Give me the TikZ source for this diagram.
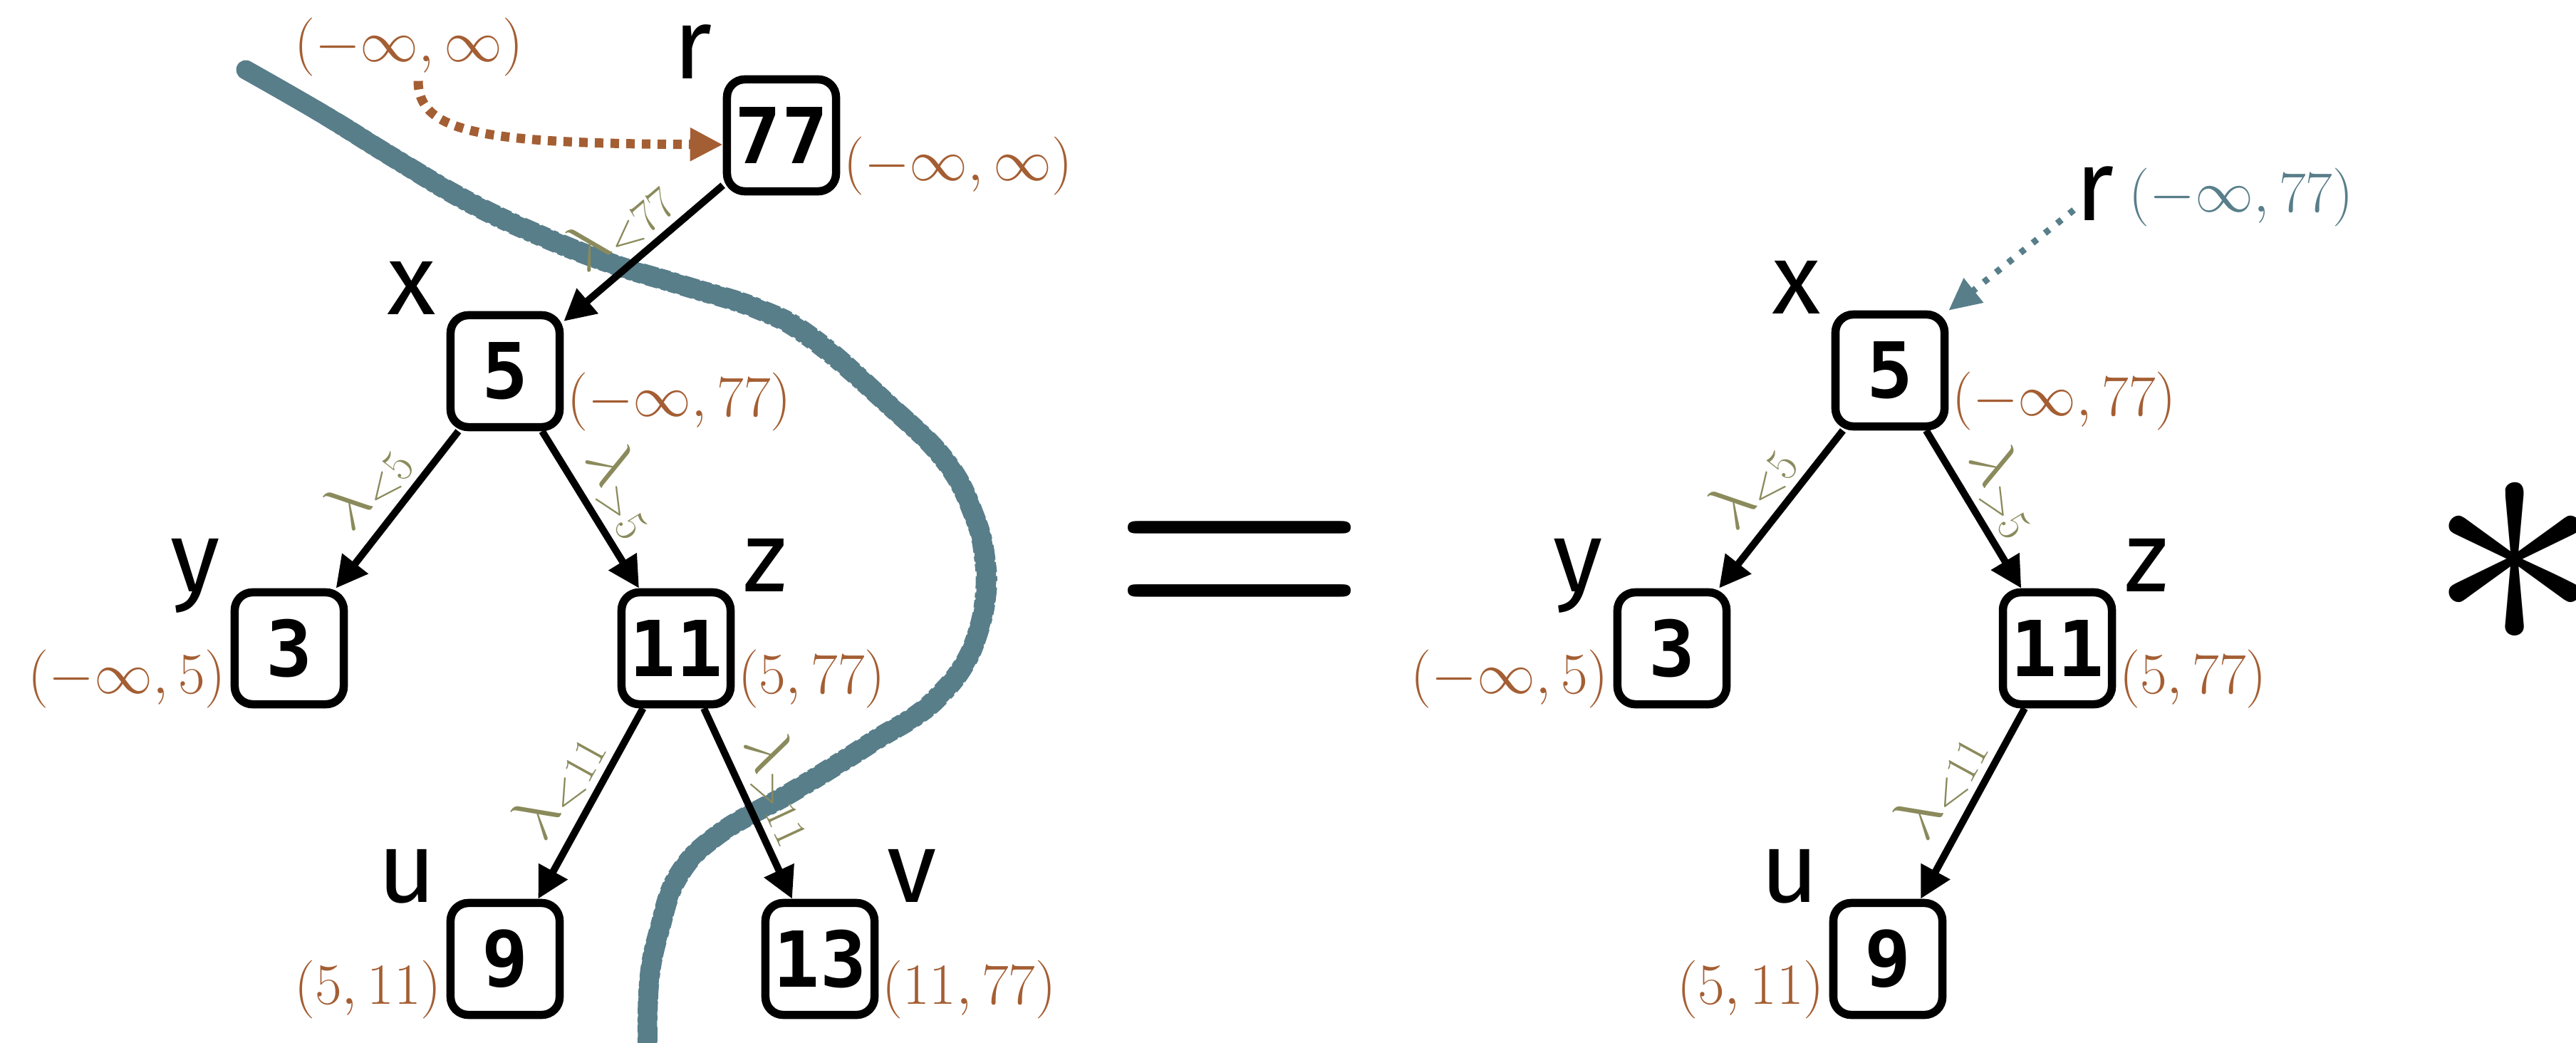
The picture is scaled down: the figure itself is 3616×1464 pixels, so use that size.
\RequirePackage{fix-cm}
\documentclass[tikz,border=0pt]{standalone}
\usepackage{fontspec}
\usetikzlibrary{arrows.meta,calc}
\newfontfamily\lblfont{Fira Sans}
\newfontfamily\numfont{DejaVu Sans Mono}
\definecolor{ivbrown}{RGB}{164,94,51}
\definecolor{ivblue}{RGB}{88,126,138}
\definecolor{ivolive}{RGB}{138,138,92}
\tikzset{
  keybox/.style={draw, line width=0.115cm, rounded corners=0.25cm, minimum width=1.53cm, minimum height=1.57cm, inner sep=0pt, font=\numfont\bfseries\fontsize{30.8}{32}\selectfont},
  vname/.style={inner sep=0pt, font=\lblfont\fontsize{40}{44}\selectfont},
  ivl/.style={inner sep=0pt, text=ivbrown, font=\fontsize{23.3}{26}\selectfont},
  edgearrow/.style={line width=0.1cm, -{Triangle[length=0.44cm,width=0.44cm]}},
  elab/.style={midway, sloped, above, inner sep=2.5pt, text=ivolive, font=\fontsize{26}{29}\selectfont},
  bigsym/.style={inner sep=0pt, anchor=base, font=\fontsize{142}{150}\selectfont},
  cutline/.style={draw=ivblue, line cap=round, line join=round},
}
\begin{document}
\begin{tikzpicture}[x=0.01cm, y=-0.01cm]
\clip (0,0) rectangle (3616,1464);
% the cut curve
\path[cutline, line width=0.27cm] plot[smooth, tension=0.7] coordinates {(345,98) (453,160) (555,223) (657,283) (759,331) (861,371) (963,402) (1065,434) (1140,475) (1244,565) (1327,647) (1369,728) (1383,790) (1383,840) (1372,890) (1352,935) (1320,975) (1285,1005) (1235,1035) (1180,1070) (1106,1115) (1010,1170) (953,1228) (926,1304) (911,1381) (909,1490)};
\path[cutline, line width=0.06cm, line cap=butt, dash pattern=on 4pt off 1.5pt on 2pt off 2.5pt on 6pt off 1pt] plot[smooth, tension=0.7] coordinates {(341,87) (455,149) (558,212) (661,272) (763,320) (864,360) (966,391) (1069,423) (1147,465) (1252,557) (1337,641) (1380,725) (1395,790) (1395,840) (1383,893) (1362,941) (1328,984) (1291,1015) (1241,1045) (1186,1080) (1112,1125) (1017,1179) (963,1234) (937,1307) (922,1383) (920,1490)};
\path[cutline, line width=0.06cm, line cap=butt, dash pattern=on 3pt off 2pt on 5pt off 1.5pt on 2pt off 1pt] plot[smooth, tension=0.7] coordinates {(349,109) (451,171) (552,234) (653,294) (755,342) (858,382) (960,413) (1061,445) (1133,485) (1236,573) (1317,653) (1358,731) (1371,790) (1371,840) (1361,887) (1342,929) (1312,966) (1279,995) (1229,1025) (1174,1060) (1100,1105) (1003,1161) (943,1222) (915,1301) (900,1379) (898,1490)};

% ---------- left tree ----------
\node[keybox] (r77) at (1097,190) {77};
\node[keybox] (x5) at (709,521) {5};
\node[keybox] (y3) at (406,910) {3};
\node[keybox] (z11) at (949,910) {11};
\node[keybox] (u9) at (709,1346) {9};
\node[keybox] (v13) at (1151,1346) {13};

\node[vname, anchor=base east] (lr) at ($(r77.north west)+(-14,5)$) {r};
\node[vname, anchor=base east] (lx) at ($(x5.north west)+(-14,5)$) {x};
\node[vname, anchor=base east] (ly) at ($(y3.north west)+(-14,5)$) {y};
\node[vname, anchor=base west] (lz) at ($(z11.north east)+(11,5)$) {z};
\node[vname, anchor=base east] (lu) at ($(u9.north west)+(-14,5)$) {u};
\node[vname, anchor=base west] (lv) at ($(v13.north east)+(11,5)$) {v};

\node[ivl] (topIv) at (574,66) {$(-\infty,\infty)$};
\node[ivl, anchor=south west] (ir77) at ($(r77.south east)+(4,0)$) {$(-\infty,\infty)$};
\node[ivl, anchor=south west] (ix5) at ($(x5.south east)+(4,0)$) {$(-\infty,77)$};
\node[ivl, anchor=south east] (iy3) at ($(y3.south west)+(-6,0)$) {$(-\infty,5)$};
\node[ivl, anchor=south west] (iz11) at ($(z11.south east)+(4,0)$) {$(5,77)$};
\node[ivl, anchor=south east] (iu9) at ($(u9.south west)+(-6,0)$) {$(5,11)$};
\node[ivl, anchor=south west] (iv13) at ($(v13.south east)+(4,0)$) {$(11,77)$};

\draw[edgearrow] (r77) -- node[elab]{$\lambda_{<77}$} (x5);
\draw[edgearrow] (x5) -- node[elab]{$\lambda_{<5}$} (y3);
\draw[edgearrow] (x5) -- node[elab]{$\lambda_{>5}$} (z11);
\draw[edgearrow] (z11) -- node[elab]{$\lambda_{<11}$} (u9);
\draw[edgearrow] (z11) -- node[elab]{$\lambda_{>11}$} (v13);

\coordinate (bstart) at ($(topIv.south)+(13,6)$);
\draw[ivbrown, line width=0.13cm, dash pattern=on 0.12cm off 0.1cm, -{Triangle[length=0.46cm,width=0.44cm]}] (bstart) .. controls +(0,75) and +(-330,-2) .. ($(r77.west)+(0,13)$);

% ---------- equals ----------
\node[bigsym] (eq) at (1740,909) {$=$};

% ---------- right tree ----------
\node[keybox] (x5r) at (2653,520) {5};
\node[keybox] (y3r) at (2347,910) {3};
\node[keybox] (z11r) at (2888,910) {11};
\node[keybox] (u9r) at (2650,1346) {9};

\node[vname, anchor=base west] (rR) at (2913,310) {r};
\node[ivl, text=ivblue, anchor=north west] (rIv) at (2988,235) {$(-\infty,77)$};
\node[vname, anchor=base east] (lxr) at ($(x5r.north west)+(-14,5)$) {x};
\node[vname, anchor=base east] (lyr) at ($(y3r.north west)+(-14,5)$) {y};
\node[vname, anchor=base west] (lzr) at ($(z11r.north east)+(11,5)$) {z};
\node[vname, anchor=base east] (lur) at ($(u9r.north west)+(-14,5)$) {u};

\node[ivl, anchor=south west] (ix5r) at ($(x5r.south east)+(4,0)$) {$(-\infty,77)$};
\node[ivl, anchor=south east] (iy3r) at ($(y3r.south west)+(-6,0)$) {$(-\infty,5)$};
\node[ivl, anchor=south west] (iz11r) at ($(z11r.south east)+(4,0)$) {$(5,77)$};
\node[ivl, anchor=south east] (iu9r) at ($(u9r.south west)+(-6,0)$) {$(5,11)$};

\draw[edgearrow] (x5r) -- node[elab]{$\lambda_{<5}$} (y3r);
\draw[edgearrow] (x5r) -- node[elab]{$\lambda_{>5}$} (z11r);
\draw[edgearrow] (z11r) -- node[elab]{$\lambda_{<11}$} (u9r);

\coordinate (rstart) at ($(rR.south west)+(-2,-16)$);
\draw[ivblue, line width=0.09cm, dash pattern=on 0.08cm off 0.14cm, -{Triangle[length=0.45cm,width=0.42cm]}] (rstart) -- (x5r.north east);

% ---------- asterisk ----------
\node[bigsym] (ast) at (3530,909) {$\ast$};
\end{tikzpicture}
\end{document}
